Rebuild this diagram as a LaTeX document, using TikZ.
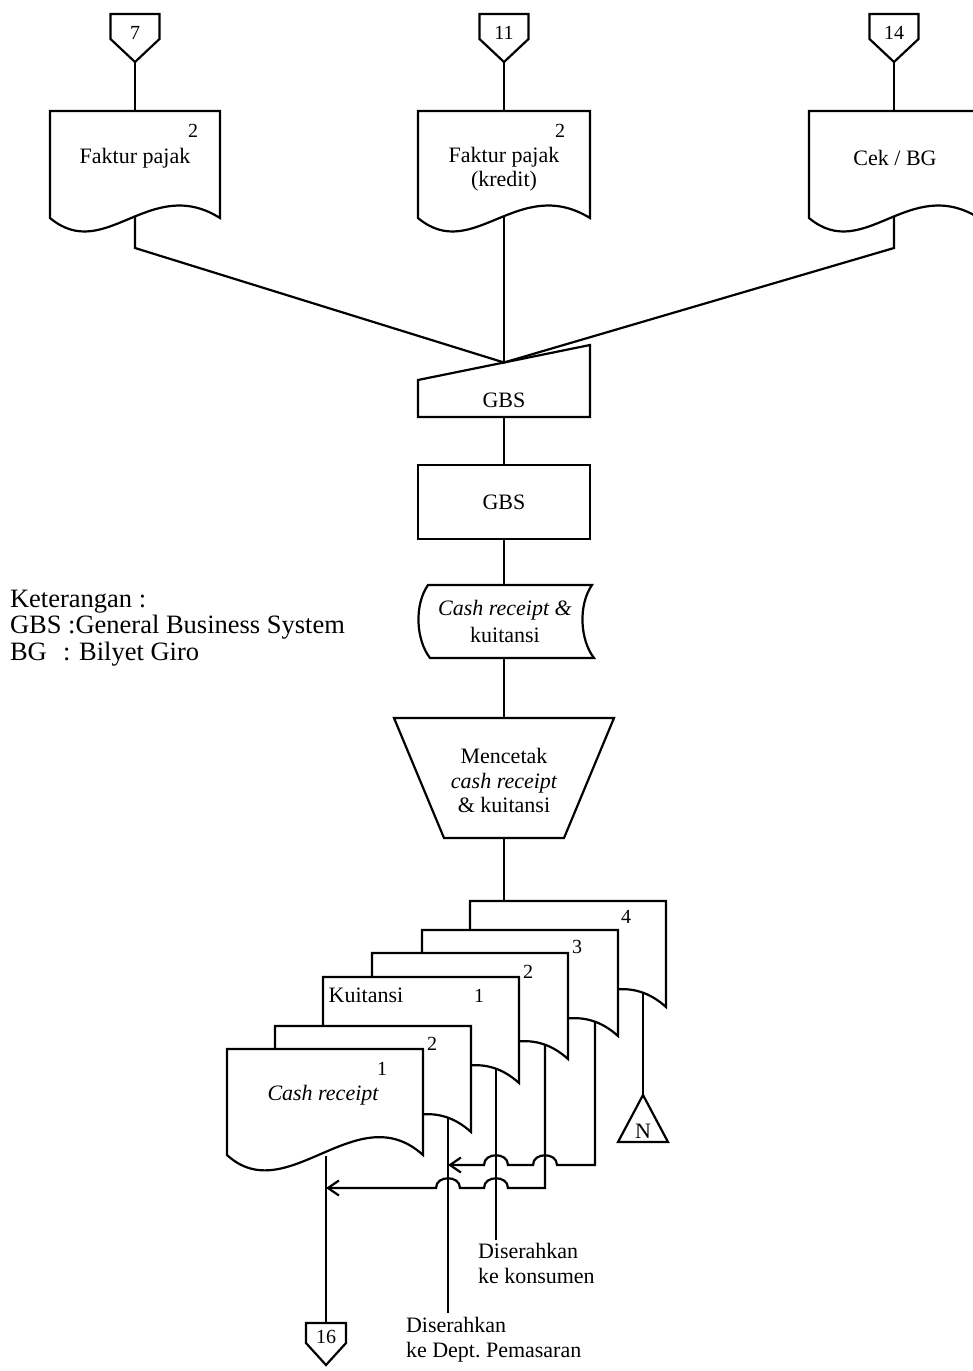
\documentclass[tikz,border=0pt]{standalone}
\usepackage{fontspec}
\setmainfont{Liberation Serif}
\usetikzlibrary{calc,arrows.meta}

% document symbol drawn around a placeholder node: wavy lower edge
\newcommand\docoutline[5]{%
  \draw[fill=white] (#1.north west) -- (#1.north east) -- (#1.south east)
    .. controls ($(#1.south west)+(#4,#5)$) and ($(#1.south west)+(#2,#3)$) .. (#1.south west) -- cycle;}
\newcommand\topdoc[1]{\docoutline{#1}{55}{46}{100}{-44}}
\newcommand\stackdoc[1]{\docoutline{#1}{60}{55}{130}{-60}}

% off-page connector: name, centre x, top y, half width, box height, point depth, label
\newcommand\offpage[7]{%
  \draw (#2-#4,#3) -- (#2+#4,#3) -- (#2+#4,#3+#5) -- (#2,#3+#5+#6) -- (#2-#4,#3+#5) -- cycle;
  \coordinate (#1in) at (#2,#3);
  \coordinate (#1) at (#2,#3+#5+#6);
  \node[num] (#1lbl) at (#2,#3+#5) {#7};}

\begin{document}
\begin{tikzpicture}[x=1pt,y=-1pt,line width=2.2pt,
  ph/.style 2 args={shape=rectangle,draw=none,inner sep=0pt,outer sep=0pt,minimum width=#1pt,minimum height=#2pt},
  box/.style={shape=rectangle,draw,inner sep=0pt,outer sep=0pt,font=\fontsize{22}{26}\selectfont},
  lbl/.style={anchor=base,inner sep=0pt,outer sep=0pt,font=\fontsize{22}{26}\selectfont},
  num/.style={anchor=base,inner sep=0pt,outer sep=0pt,font=\fontsize{20}{24}\selectfont},
  lgd/.style={anchor=base west,inner sep=0pt,outer sep=0pt,font=\fontsize{26.5}{30}\selectfont},
  flow/.style={-{Straight Barb[length=11pt,width=15pt]}},
]
\useasboundingbox (0,0) rectangle (973,1371);
\fill[white] (0,0) rectangle (973,1371);
\clip (0,0) rectangle (973,1371);

% ---- incoming connectors
\offpage{c7}{135}{14}{24.5}{25}{23}{7}
\offpage{c11}{504}{14}{24.5}{25}{23}{11}
\offpage{c14}{894}{14}{24.5}{25}{23}{14}

% ---- source documents
\node[ph={170}{107}] (fp1) at (135,164.5) {};
\node[ph={172}{107}] (fp2) at (504,164.5) {};
\node[ph={170}{107}] (cek) at (894,164.5) {};
\topdoc{fp1}
\topdoc{fp2}
\topdoc{cek}
\node[num] (fp1n) at (193,137) {2};
\node[lbl] (fp1t) at (135,163) {Faktur pajak};
\node[num] (fp2n) at (560,137) {2};
\node[lbl] (fp2t) at (504,162) {Faktur pajak};
\node[lbl] (fp2u) at (504,186) {(kredit)};
\node[lbl] (cekt) at (895,165) {Cek / BG};

\draw (c7) -- (fp1.north);
\draw (c11) -- (fp2.north);
\draw (c14) -- (cek.north);

% ---- manual input GBS
\node[ph={172}{72}] (gbs1) at (504,381) {};
\draw ($(gbs1.north west)+(0,35)$) -- (gbs1.north east) -- (gbs1.south east) -- (gbs1.south west) -- cycle;
\coordinate (gbsin) at ($(gbs1.north west)+(86,17.5)$);
\node[lbl] (gbs1t) at (504,407) {GBS};

\coordinate (fp1out) at ($(fp1.south)+(0,-1)$);
\coordinate (fp2out) at ($(fp2.south)+(0,-1)$);
\coordinate (cekout) at ($(cek.south)+(0,-1)$);
\draw (fp1out) -- ++(0,31) -- (gbsin);
\draw (fp2out) -- (gbsin);
\draw (cekout) -- ++(0,31) -- (gbsin);

% ---- process GBS
\node[box,minimum width=172pt,minimum height=74pt] (gbs2) at (504,502) {GBS};
\draw (gbs1.south) -- (gbs2.north);

% ---- punched tape
\node[ph={164}{73}] (tape) at (510,621.5) {};
\draw (tape.north west) -- (tape.north east)
  .. controls ($(tape.north east)+(-14,20)$) and ($(tape.north east)+(-12,55)$) .. ($(tape.south east)+(2,0)$)
  -- ($(tape.south west)+(2,0)$)
  .. controls ($(tape.north west)+(-12,55)$) and ($(tape.north west)+(-14,20)$) .. (tape.north west) -- cycle;
\node[lbl] (tapet) at (505,615) {\itshape Cash receipt \&};
\node[lbl] (tapeu) at (505,642) {kuitansi};
\draw (gbs2.south) -- (gbs2.south |- tape.north);

% ---- manual operation
\node[ph={220}{120}] (mc) at (504,778) {};
\draw (mc.north west) -- (mc.north east) -- ($(mc.south east)+(-50,0)$) -- ($(mc.south west)+(50,0)$) -- cycle;
\node[lbl] (mct1) at (504,763) {Mencetak};
\node[lbl] (mct2) at (504,788) {\itshape cash receipt};
\node[lbl] (mct3) at (504,812) {\& kuitansi};
\draw (gbs2.south |- tape.south) -- (mc.north);

% ---- printed copies, back to front
\node[ph={196}{106}] (s4) at (568,954) {};
\node[ph={196}{106}] (s3) at (520,983) {};
\node[ph={196}{106}] (s2) at (470,1006) {};
\node[ph={196}{106}] (kw) at (421,1030) {};
\node[ph={196}{106}] (c2) at (373,1079) {};
\node[ph={196}{106}] (cr) at (325,1102) {};
\stackdoc{s4}
\stackdoc{s3}
\stackdoc{s2}
\stackdoc{kw}
\stackdoc{c2}
\stackdoc{cr}
\draw (mc.south) -- (mc.south |- s4.north);

\node[num] (s4n) at (626,923) {4};
\node[num] (s3n) at (577,953) {3};
\node[num] (s2n) at (528,978) {2};
\node[lbl] (kwt) at (366,1002) {Kuitansi};
\node[num] (kwn) at (479,1002) {1};
\node[num] (c2n) at (432,1050) {2};
\node[num] (crn) at (382,1075) {1};
\node[lbl] (crt) at (323,1100) {\itshape Cash receipt};

% ---- outputs of the copies
\coordinate (s4out) at ($(s4.south west)+(173,-14)$);
\coordinate (s3out) at ($(s3.south west)+(173,-14)$);
\coordinate (s2out) at ($(s2.south west)+(173,-14)$);
\coordinate (kwout) at ($(kw.south west)+(173,-14)$);
\coordinate (c2out) at ($(c2.south west)+(173,-14)$);
\coordinate (crout) at ($(cr.south west)+(99,1)$);

% file N
\coordinate (napex) at (643,1095);
\draw (napex) -- (668,1142) -- (618,1142) -- cycle;
\node[lbl] (nt) at (643,1138) {N};
\draw (s4out) -- (napex);

% copies 3 and 2 routed back with line hops
\coordinate (t3) at ($(s3out)+(0,143)$);
\coordinate (t2) at ($(s2out)+(0,143)$);
\coordinate (h1) at (t3 -| s2out);
\coordinate (h2) at (t3 -| kwout);
\coordinate (h3) at (t2 -| kwout);
\coordinate (h4) at (t2 -| c2out);
\draw[flow] (s3out) -- (t3)
  -- ($(h1)+(12,0)$) .. controls ($(h1)+(12,-13)$) and ($(h1)+(-12,-13)$) .. ($(h1)+(-12,0)$)
  -- ($(h2)+(12,0)$) .. controls ($(h2)+(12,-13)$) and ($(h2)+(-12,-13)$) .. ($(h2)+(-12,0)$)
  -- (t3 -| c2out);
\draw[flow] (s2out) -- (t2)
  -- ($(h3)+(12,0)$) .. controls ($(h3)+(12,-13)$) and ($(h3)+(-12,-13)$) .. ($(h3)+(-12,0)$)
  -- ($(h4)+(12,0)$) .. controls ($(h4)+(12,-13)$) and ($(h4)+(-12,-13)$) .. ($(h4)+(-12,0)$)
  -- (t2 -| crout);

% hand-overs
\coordinate (kwend) at (496,1240);
\coordinate (c2end) at (448,1313);
\draw (kwout) -- (kwout |- kwend);
\draw (c2out) -- (c2out |- c2end);
\node[lbl,anchor=base west] (kon1) at (478,1258) {Diserahkan};
\node[lbl,anchor=base west] (kon2) at (478,1283) {ke konsumen};
\node[lbl,anchor=base west] (pem1) at (406,1332) {Diserahkan};
\node[lbl,anchor=base west] (pem2) at (406,1357) {ke Dept.\ Pemasaran};

% outgoing connector
\offpage{c16}{326}{1323}{20}{20}{22}{16}
\draw (crout) -- (c16in);

% ---- legend
\node[lgd] (k0) at (10,607) {Keterangan :};
\node[lgd] (k1) at (10,633) {GBS :General Business System};
\node[lgd] (k2) at (10,660) {BG};
\node[lgd] (k3) at (63,660) {: Bilyet Giro};
\end{tikzpicture}
\end{document}
